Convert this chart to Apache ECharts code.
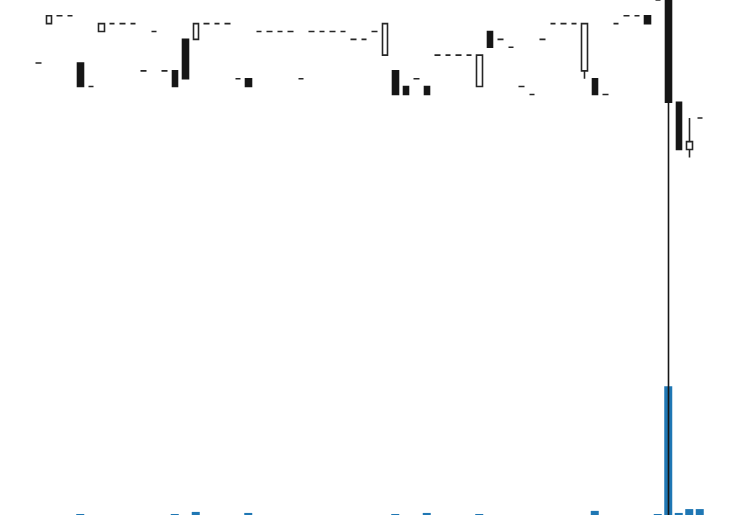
<!DOCTYPE html>
<html>
<head>
<meta charset="utf-8">
<script src="https://cdn.jsdelivr.net/npm/echarts@6/dist/echarts.min.js"></script>
<style>html,body{margin:0;padding:0;background:#fff;}#c{width:737px;height:515px;}</style>
</head>
<body>
<div id="c"></div>
<script>
// Price levels (arbitrary price units)
var opens  = [92,97,98,98,92,89,96,97,97,97,91,96,91,91,95,95,97,97,97,90,90,96,96,96,96,90,96,96,96,96,95,95,96,93,91,89,90,89,93,93,93,93,89,96,95,94,89,88,95,97,97,97,91,90,88,97,98,98,98,100,100,87,81,85];
var closes = [92,98,98,98,89,89,97,97,97,97,91,96,91,89,90,97,97,97,97,90,89,96,96,96,96,90,96,96,96,96,95,95,96,97,88,88,90,88,93,93,93,93,93,94,95,94,89,88,95,97,97,97,97,88,88,97,98,98,97,100,87,81,82,85];
var lows   = [92,97,98,98,89,89,96,97,97,97,91,96,91,89,90,95,97,97,97,90,89,96,96,96,96,90,96,96,96,96,95,95,96,93,88,88,90,88,93,93,93,93,89,94,95,94,89,88,95,97,97,97,90,88,88,97,98,98,97,100,34.5,81,80,85];
var highs  = [92,98,98,98,92,89,97,97,97,97,91,96,91,91,95,97,97,97,97,90,90,96,96,96,96,90,96,96,96,96,95,95,96,97,91,89,90,89,93,93,93,93,93,96,95,94,89,88,95,97,97,97,97,90,88,97,98,98,98,100,100,87,85,85];
var volumes = [0,0,0,0,4,0,0,0,0,0,0,0,0,4,0,12,0,0,0,0,8,0,0,0,0,0,0,0,0,0,0,0,0,0,4,0,0,8,0,0,0,0,4,0,0,0,0,0,0,0,0,0,0,16,0,0,0,0,0,4,500,8,23,23];
var categories = opens.map(function(_, i){ return 'D' + (i + 1); });

var candles = opens.map(function(o, i){ return [o, closes[i], lows[i], highs[i]]; });

var chart = echarts.init(document.getElementById('c'), null, {renderer: 'canvas'});
chart.setOption({
  animation: false,
  backgroundColor: '#ffffff',
  grid: {left: 33, right: 32, top: 0, bottom: 0, containLabel: false},
  xAxis: {
    type: 'category', data: categories, boundaryGap: true,
    axisLine: {show: false}, axisTick: {show: false}, axisLabel: {show: false}, splitLine: {show: false}
  },
  yAxis: [
    {type: 'value', min: 34.56, max: 100, show: false, splitLine: {show: false}},
    {type: 'value', min: 0, max: 2000, show: false, splitLine: {show: false}}
  ],
  series: [
    {
      type: 'bar', yAxisIndex: 1, data: volumes, barWidth: 8,
      itemStyle: {color: '#1f77b4'}, z: 1
    },
    {
      type: 'candlestick', yAxisIndex: 0, data: candles, barWidth: 6, clip: true,
      itemStyle: {
        color: '#ffffff', color0: '#161616',
        borderColor: '#262626', borderColor0: '#161616',
        borderColorDoji: '#262626', borderWidth: 1.6
      },
      z: 2
    }
  ]
});
</script>
</body>
</html>
